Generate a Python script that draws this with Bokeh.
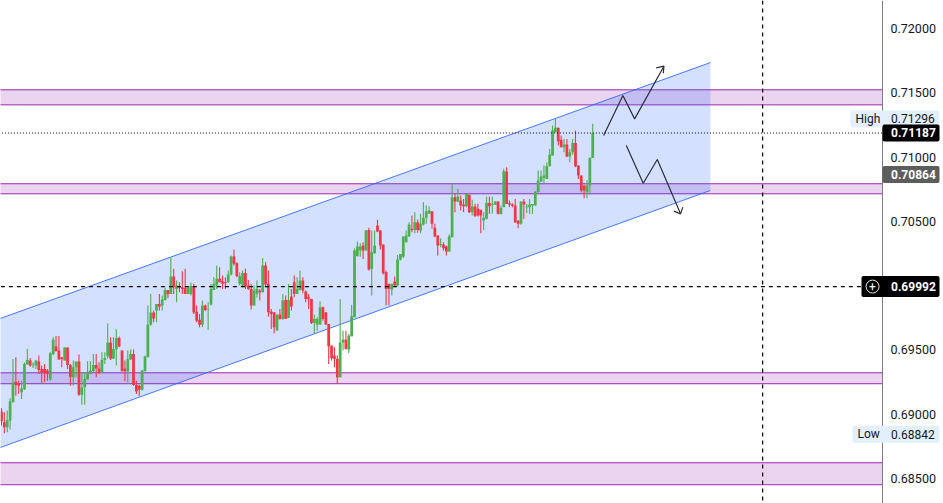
from bokeh.plotting import figure
from bokeh.models import Range1d, Span, Label, BoxAnnotation, FixedTicker, NumeralTickFormatter
from bokeh.embed import file_html
from bokeh.resources import INLINE

# prices in points (1 point = 0.00001)
opens = [69019,68936,68897,68949,69092,69252,69240,69169,69193,69385,
69416,69377,69377,69408,69351,69351,69338,69268,69463,69525,
69494,69442,69416,69517,69382,69286,69364,69408,69151,69208,
69268,69312,69333,69382,69354,69322,69421,69450,69556,
69432,69504,69592,69494,69354,69333,69424,69468,69226,69221,
69190,69333,69442,69696,69790,69805,69857,69844,69888,69966,
69935,70070,69974,69992,69987,69982,69935,69935,69997,69797,
69733,69694,69844,69810,69852,69966,70000,70052,70034,70026,
70026,70085,70226,70174,70013,70000,70098,70000,69974,69844,69935,
69961,69948,70156,70013,69797,69792,69650,69774,69740,69888,
69748,69914,70026,69935,69966,
70039,69953,69909,69896,69709,69696,69696,69831,69792,69701,
69533,69455,69429,69286,69556,69579,69502,69605,69753,70228,
70272,70311,70272,70433,70130,70254,70467,70428,70319,70104,
70013,69969,70031,70000,70202,70225,70337,70381,70441,70433,
70493,70428,70475,70527,70558,70578,70449,70389,70316,70319,
70303,70264,70376,70687,70654,70661,70630,70617,70706,70571,
70615,70597,70589,70506,70519,70643,70628,70628,70654,
70557,70609,70887,70640,70630,70622,70506,70480,70653,70609,
70609,70622,70622,70726,70809,70838,70830,70929,71012,71193,
71227,71134,71076,71097,71004,71038,71110,70934,70856,70778,
70726,70778,70993]
closes = [68944,68897,68954,69097,69247,69226,69221,69198,69390,69421,
69377,69385,69416,69343,69325,69317,69312,69473,69579,69489,
69424,69429,69517,69382,69291,69364,69408,69151,69208,69273,
69317,69338,69382,69354,69322,69421,69437,69556,69432,
69507,69592,69525,69333,69333,69429,69468,69226,69175,69190,
69338,69447,69696,69790,69743,69857,69836,69891,69966,69935,
70070,69987,70000,69982,69974,69935,69982,69997,69790,69727,
69694,69844,69810,69813,69974,70013,70052,70026,70013,70018,
70085,70226,70169,70072,70072,70098,69992,69974,69844,69961,69975,
69948,70156,70008,69792,69779,69675,69774,69740,69883,69740,
69888,69836,69935,69974,70039,
69961,69896,69896,69709,69740,69740,69831,69740,69696,69527,
69434,69429,69286,69556,69579,69507,69610,69761,70272,70303,
70303,70272,70428,70124,70259,70311,70420,70311,70096,69974,
69974,70013,70000,70202,70246,70381,70389,70475,70433,70493,
70433,70480,70527,70578,70584,70480,70381,70311,70324,70290,
70264,70381,70687,70654,70693,70623,70617,70713,70571,70615,
70540,70545,70545,70527,70643,70617,70636,70654,70558,
70604,70890,70635,70628,70620,70493,70480,70653,70630,70615,
70630,70635,70731,70817,70848,70856,70929,71019,71206,71227,
71123,71076,71097,71004,71038,71110,70929,70856,70739,70739,
70778,70993,71185]
highs = [69045,69014,69027,69123,69429,69442,69260,69260,69403,69509,
69437,69403,69416,69455,69377,69390,69351,69481,69598,69608,
69608,69442,69517,69517,69390,69416,69408,69463,69325,69325,
69411,69411,69468,69468,69403,69481,69481,69704,69598,
69598,69660,69603,69494,69416,69494,69502,69502,69260,69229,
69343,69455,69844,69935,69805,69857,69935,69922,69982,69966,
70220,70130,70039,70026,70111,70130,69992,70023,70013,69844,
69779,69883,69852,69870,70013,70065,70156,70143,70078,70065,
70117,70233,70280,70182,70104,70117,70130,70044,70013,70000,70040,
69974,70215,70182,70117,69818,69792,69774,69818,69935,69922,
70013,69974,70078,70065,70117,
70065,69961,69935,69896,69774,69753,69878,69836,69792,69701,
69533,69520,69455,69896,69649,69649,69623,69849,70290,70342,
70329,70337,70433,70449,70428,70428,70511,70433,70319,70117,
70013,70013,70070,70238,70246,70381,70428,70493,70545,70571,
70514,70558,70649,70623,70617,70578,70480,70389,70368,70337,
70311,70397,70791,70713,70752,70700,70674,70719,70706,70667,
70636,70636,70589,70571,70693,70693,70693,70654,70654,
70622,70908,70921,70661,70640,70674,70506,70653,70674,70635,
70674,70635,70731,70895,70895,70934,70960,71063,71245,71297,
71227,71167,71141,71141,71063,71141,71206,70934,70856,70778,
70822,70998,71258]
lows = [68910,68850,68858,68879,69092,69143,69156,69118,69188,69385,
69369,69359,69351,69312,69234,69247,69260,69260,69463,69489,
69424,69364,69416,69351,69221,69221,69286,69143,69073,69073,
69268,69312,69325,69286,69312,69322,69390,69432,69421,
69429,69377,69520,69333,69255,69247,69421,69221,69156,69138,
69182,69333,69442,69688,69714,69714,69805,69805,69883,69901,
69935,69935,69870,69948,69935,69935,69935,69922,69779,69714,
69675,69675,69800,69655,69844,69966,69974,70026,69974,69974,
70021,70078,70156,70065,70000,69987,69974,69966,69813,69844,69905,
69883,69948,69987,69758,69662,69629,69650,69733,69733,69740,
69748,69805,69909,69935,69961,
69940,69870,69818,69701,69631,69649,69696,69727,69696,69390,
69416,69364,69234,69286,69494,69502,69473,69605,69753,70228,
70225,70207,70272,70117,69922,70246,70415,70280,70085,69844,
69844,69922,70000,69995,70195,70215,70337,70381,70415,70407,
70410,70407,70467,70480,70558,70441,70376,70233,70298,70272,
70233,70264,70376,70571,70649,70584,70571,70610,70565,70545,
70537,70537,70407,70433,70514,70558,70558,70628,70552,
70552,70609,70635,70609,70610,70487,70446,70474,70519,70565,
70557,70557,70622,70726,70804,70791,70830,70929,71012,71193,
71089,71076,71038,70999,70960,71017,70921,70830,70726,70679,
70679,70708,70993]

# ascending channel: bar positions and prices of its two edges
channel_bars = [-1.0, 247.0]
channel_upper = [69739, 71735]
channel_lower = [68735, 70740]
# supply / demand zones (top, bottom)
zone_tops = [71523, 70792, 69321, 68621]
zone_bottoms = [71406, 70714, 69236, 68450]
# scenario arrows
up_bars = [209.8, 216.5, 220.6, 230.8]
up_prices = [71168, 71479, 71297, 71707]
up_head_bars = [228.1, 230.8, 230.6]
up_head_prices = [71694, 71707, 71652]
down_bars = [217.7, 223.6, 228.5, 236.6]
down_prices = [71090, 70796, 70981, 70558]
down_head_bars = [234.3, 236.6, 237.4]
down_head_prices = [70579, 70558, 70610]
# levels
last_price = 0.71187
cross_price = 0.69992
cross_bar = 265.2
shown_ticks = [0.685, 0.69, 0.695, 0.705, 0.71, 0.715, 0.72]

GREEN, RED = "#4caf50", "#f23645"
PURPLE, BLUE = "#9c27b0", "#2962ff"
FONT = "Roboto"
bars_left, bars_right, bars_end = -0.348, 306.97, 328.22
bars_out = -3

def pr(v):
    return [a / 1e5 for a in v]

p = figure(width=943, height=503, output_backend="svg", toolbar_location=None,
           x_range=Range1d(bars_left, bars_end), y_range=Range1d(0.68304, 0.72218),
           y_axis_location="right", min_border_left=0, min_border_top=0,
           min_border_bottom=0, min_border_right=0, outline_line_color=None,
           background_fill_color="white", border_fill_color="white")
p.xaxis.visible = False
p.grid.visible = False

ax = p.yaxis[0]
ax.fixed_location = bars_right
ax.ticker = FixedTicker(ticks=shown_ticks)
ax.formatter = NumeralTickFormatter(format="0.00000")
ax.major_tick_line_color = None
ax.minor_tick_line_color = None
ax.axis_line_color = "#787b86"
ax.major_label_text_font = FONT
ax.major_label_text_font_size = "12.5px"
ax.major_label_text_color = "#131722"
ax.major_label_standoff = 2

# zones
for t, b in zip(pr(zone_tops), pr(zone_bottoms)):
    p.quad(left=bars_out, right=bars_right, top=t, bottom=b, fill_color=PURPLE, fill_alpha=0.2,
           line_alpha=0)
    p.line([bars_out, bars_right], [t, t], line_color=PURPLE, line_width=1)
    p.line([bars_out, bars_right], [b, b], line_color=PURPLE, line_width=1)

# channel
p.patch(channel_bars + channel_bars[::-1], pr(channel_upper) + pr(channel_lower)[::-1],
        fill_color=BLUE, fill_alpha=0.2, line_alpha=0)
p.line(channel_bars, pr(channel_upper), line_color=BLUE, line_width=1, line_alpha=0.85)
p.line(channel_bars, pr(channel_lower), line_color=BLUE, line_width=1, line_alpha=0.85)

# candles
idx = list(range(len(opens)))
cols = [GREEN if c >= o else RED for o, c in zip(opens, closes)]
p.segment(idx, pr(highs), idx, pr(lows), line_color=cols, line_width=1.1)
p.vbar(idx, width=0.96, top=pr(opens), bottom=pr(closes), fill_color=cols, line_alpha=0)

# arrows
for xs, ys in ((up_bars, up_prices), (up_head_bars, up_head_prices),
               (down_bars, down_prices), (down_head_bars, down_head_prices)):
    p.line(xs, pr(ys), line_color="#2a2e39", line_width=1.2)

# levels
p.line([bars_out, bars_right], [last_price, last_price], line_color="black", line_dash="1 2", line_width=1.2)
p.line([bars_out, bars_right], [cross_price, cross_price], line_color="black", line_dash="4 4", line_width=1.2)
p.add_layout(Span(location=cross_bar, dimension="height", line_color="black", line_dash="4 4", line_width=1.2))

# labels on the price scale
px = 0.0000778  # one screen pixel in price units
def tag(left, right, price, color, text, text_color, bold=False, h=8.5, box_level="overlay"):
    p.add_layout(BoxAnnotation(left=left, right=right, left_units="screen", right_units="screen",
                               top=price + h * px, bottom=price - h * px, fill_color=color,
                               fill_alpha=1, line_alpha=0, border_radius=2, level=box_level))
    p.add_layout(Label(x=890.5, x_units="screen", y=price, text=text, text_color=text_color,
                       text_font=FONT, text_font_size="12px", text_baseline="middle",
                       text_font_style="bold" if bold else "normal", level="overlay"))

tag(850, 939, 0.71296, "#e3effd", "0.71296", "#131722")
p.add_layout(Label(x=855, x_units="screen", y=0.71296, text="High", text_color="#131722", text_font=FONT,
                   text_font_size="12px", text_baseline="middle", level="overlay"))
tag(882, 939, last_price, "#000000", "0.71187", "#ffffff", True)
tag(882, 939, 0.70864, "#5d5d5d", "0.70864", "#ffffff", True)
tag(861, 939, cross_price, "#000000", "0.69992", "#ffffff", True, h=10.5, box_level="annotation")
tag(852, 939, 0.68842, "#e3effd", "0.68842", "#131722")
p.add_layout(Label(x=857, x_units="screen", y=0.68842, text="Low", text_color="#131722", text_font=FONT,
                   text_font_size="12px", text_baseline="middle", level="overlay"))
p.scatter([303.5], [cross_price], marker="circle", size=13, fill_alpha=0, line_color="#e8e8e8", line_width=1, level="overlay")
p.add_layout(Label(x=872, x_units="screen", y=cross_price, text="+", text_color="white", text_font=FONT,
                   text_font_size="12px", text_baseline="middle", text_align="center", level="overlay"))

open("out.html", "w").write(file_html(p, INLINE))
